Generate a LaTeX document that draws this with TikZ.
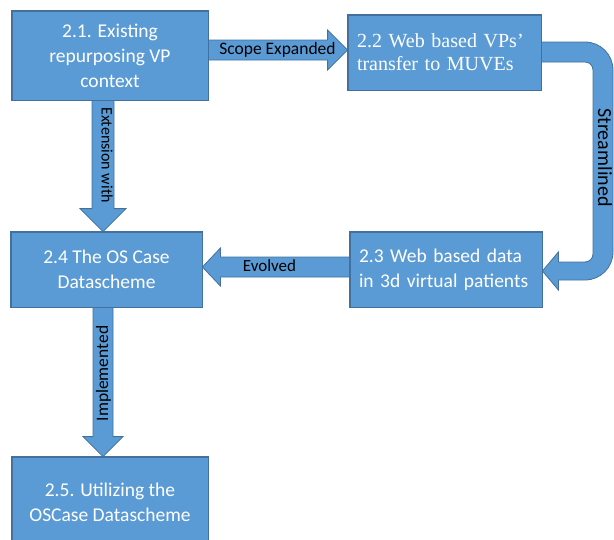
\documentclass[tikz,border=0pt]{standalone}
\usepackage{fontspec}
\setmainfont{Carlito}
\newfontfamily\serifB{Liberation Serif}
\usetikzlibrary{calc}
\definecolor{boxfill}{HTML}{5B9BD5}
\definecolor{boxline}{HTML}{41719C}
\tikzset{
  boxnode/.style={draw=boxline, fill=boxfill, text=white, line width=0.8pt, inner sep=0pt,
    font=\fontsize{19.5}{25}\selectfont},
  barrow/.style={draw=boxline, fill=boxfill, line width=0.8pt, line join=miter},
  lbl/.style={text=black, inner sep=0pt},
}
\begin{document}
\begin{tikzpicture}[x=1pt,y=-1pt]
\useasboundingbox (0,0) rectangle (614,539);
\clip (0,0) rectangle (614,539);

\path
  node[boxnode, minimum width=196, minimum height=89, align=center] (b1) at (110,55.5)
    {2.1. Existing\\repurposing VP\\context}
  node[boxnode, minimum width=193, minimum height=75, text width=175, align=left, inner xsep=9,
    font=\serifB\fontsize{20}{23}\selectfont] (b2) at (444.5,52.5)
    {2.2 Web based VPs’\\transfer to MUVEs}
  node[boxnode, minimum width=192, minimum height=75, text width=174, align=left, inner xsep=9,
    font=\fontsize{19.5}{25}\selectfont] (b3) at (446,269.5)
    {2.3 Web based data\\in 3d virtual patients}
  node[boxnode, minimum width=191, minimum height=75, align=center] (b4) at (106.5,269.5)
    {2.4 The OS Case\\Datascheme}
  node[boxnode, minimum width=196, minimum height=90, align=center] (b5) at (110,502)
    {2.5. Utilizing the\\OSCase Datascheme};

% connector end points
\coordinate (aS) at (b1.east |- 0,50);
\coordinate (aT) at (b2.west |- 0,50);
\coordinate (eS) at (b1.south -| 103,0);
\coordinate (eT) at (b4.north -| 103,0);
\coordinate (vS) at (b3.west |- 0,267);
\coordinate (vT) at (b4.east |- 0,267);
\coordinate (iS) at (b4.south -| 103,0);
\coordinate (iT) at (b5.north -| 103,0);
\coordinate (sS) at (b2.east |- 0,52);
\coordinate (sT) at (b3.east |- 0,271);

% Scope Expanded
\draw[barrow] ($(aS)+(0,-10)$) -- ($(aT)+(-20,-10)$) -- ($(aT)+(-20,-20)$) -- (aT)
  -- ($(aT)+(-20,20)$) -- ($(aT)+(-20,10)$) -- ($(aS)+(0,10)$) -- cycle;
% Extension with
\draw[barrow] ($(eS)+(-11,0)$) -- ($(eT)+(-11,-23)$) -- ($(eT)+(-23,-23)$) -- (eT)
  -- ($(eT)+(23,-23)$) -- ($(eT)+(11,-23)$) -- ($(eS)+(11,0)$) -- cycle;
% Evolved
\draw[barrow] ($(vS)+(0,-10)$) -- ($(vT)+(18,-10)$) -- ($(vT)+(18,-19)$) -- (vT)
  -- ($(vT)+(18,19)$) -- ($(vT)+(18,10)$) -- ($(vS)+(0,10)$) -- cycle;
% Implemented
\draw[barrow] ($(iS)+(-10,0)$) -- ($(iT)+(-10,-20)$) -- ($(iT)+(-20,-20)$) -- (iT)
  -- ($(iT)+(20,-20)$) -- ($(iT)+(10,-20)$) -- ($(iS)+(10,0)$) -- cycle;
% Streamlined (U-turn arrow)
\draw[barrow] ($(sS)+(0,-10)$) -- (585,42) .. controls (600.5,42) and (613,54.5) .. (613,70)
  -- (613,252) .. controls (613,267.5) and (600.5,280) .. (585,280)
  -- ($(sT)+(16,9)$) -- ($(sT)+(16,19)$) -- (sT) -- ($(sT)+(16,-19)$) -- ($(sT)+(16,-9)$)
  -- (585,262) .. controls (589.4,262) and (593,258.4) .. (593,254)
  -- (593,70) .. controls (593,65.6) and (589.4,62) .. (585,62)
  -- ($(sS)+(0,10)$) -- cycle;

% redraw box borders on top
\foreach \b in {b1,b2,b3,b4,b5}{
  \draw[draw=boxline, line width=0.8pt] (\b.north west) rectangle (\b.south east);
}

% labels
\node[lbl, font=\fontsize{17.5}{20}\selectfont] (lS) at (277.5,50) {Scope Expanded};
\node[lbl, font=\fontsize{16}{18}\selectfont, rotate=-90] (lE) at (107,155) {Extension with};
\node[lbl, font=\fontsize{17}{20}\selectfont] (lV) at (269.5,266) {Evolved};
\node[lbl, font=\fontsize{17.5}{20}\selectfont, rotate=90] (lI) at (103.5,373.5) {Implemented};
\node[lbl, font=\fontsize{20}{22}\selectfont, rotate=-90] (lT) at (605,157.5) {Streamlined};
\end{tikzpicture}
\end{document}
